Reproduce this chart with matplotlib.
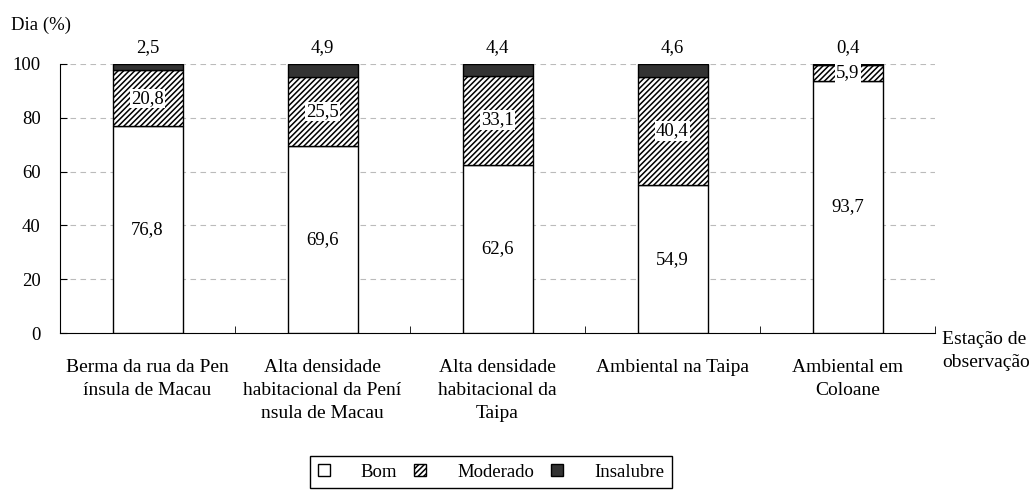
import matplotlib
matplotlib.use("Agg")
import matplotlib.pyplot as plt
import numpy as np

plt.rcParams['font.family'] = ['Liberation Serif', 'DejaVu Serif']
plt.rcParams['font.size'] = 13.5
plt.rcParams['hatch.color'] = '#3a3a3a'
plt.rcParams['hatch.linewidth'] = 1.1

# ── DATA ──────────────────────────────────────────
stations = ["Berma da rua da Pen\nínsula de Macau",
            "Alta densidade\nhabitacional da Pení\nnsula de Macau",
            "Alta densidade\nhabitacional da\nTaipa",
            "Ambiental na Taipa",
            "Ambiental em\nColoane"]
bom       = [76.8, 69.6, 62.6, 54.9, 93.7]
moderado  = [20.8, 25.5, 33.1, 40.4, 5.9]
insalubre = [2.5, 4.9, 4.4, 4.6, 0.4]
bom_lbl       = ["76,8", "69,6", "62,6", "54,9", "93,7"]
moderado_lbl  = ["20,8", "25,5", "33,1", "40,4", "5,9"]
insalubre_lbl = ["2,5", "4,9", "4,4", "4,6", "0,4"]

# ── PLOT ──────────────────────────────────────────
fig = plt.figure(figsize=(10.36, 4.90), dpi=100)
ax = fig.add_axes([60/1036, 1 - 333/490, 875/1036, 269/490])

x = np.arange(len(stations))
w = 0.4
bot2 = np.array(bom) + np.array(moderado)

ax.bar(x, bom, w, color='white', edgecolor='black', linewidth=1, zorder=3, label='Bom')
ax.bar(x, moderado, w, bottom=bom, color='white', edgecolor='black',
       hatch='//////', linewidth=1, zorder=3, label='Moderado')
ax.bar(x, insalubre, w, bottom=bot2, color='#333333', edgecolor='black',
       linewidth=1, zorder=3, label='Insalubre')

for i in range(len(x)):
    ax.text(x[i], bom[i] / 2, bom_lbl[i], ha='center', va='center', zorder=5)
    ax.text(x[i], bom[i] + moderado[i] / 2, moderado_lbl[i], ha='center', va='center',
            zorder=5, bbox=dict(facecolor='white', edgecolor='none', pad=1))
    ax.text(x[i], 103, insalubre_lbl[i], ha='center', va='bottom', zorder=5)

ax.set_xlim(-0.5, 4.5)
ax.set_ylim(0, 100)
ax.set_yticks(range(0, 101, 20))
ax.yaxis.grid(True, color='#bbbbbb', linestyle=(0, (5, 4)), linewidth=0.8, zorder=0)
ax.set_axisbelow(True)
ax.set_xticks(x)
ax.set_xticklabels(stations, fontsize=14, linespacing=1.45)
ax.tick_params(axis='x', length=0, pad=19)
ax.set_xticks(np.arange(0.5, 5, 1), minor=True)
ax.tick_params(axis='x', which='minor', direction='in', length=5)
ax.tick_params(axis='y', direction='in', length=5, pad=14)
for s in ['top', 'right']:
    ax.spines[s].set_visible(False)

fig.text(11/1036, 1 - 25/490, "Dia (%)", ha='left', va='center')
fig.text(942/1036, 1 - 351/490, "Estação de\nobservação", ha='left', va='center',
         fontsize=14, linespacing=1.45)

fig.legend(loc='center', bbox_to_anchor=(491/1036, 1 - 472/490), ncol=3,
           fancybox=False, edgecolor='black', framealpha=1, handlelength=0.65,
           handleheight=0.65, columnspacing=0.9, handletextpad=1.65,
           borderpad=0.4, borderaxespad=0)

fig.savefig("out.png", dpi=100)
